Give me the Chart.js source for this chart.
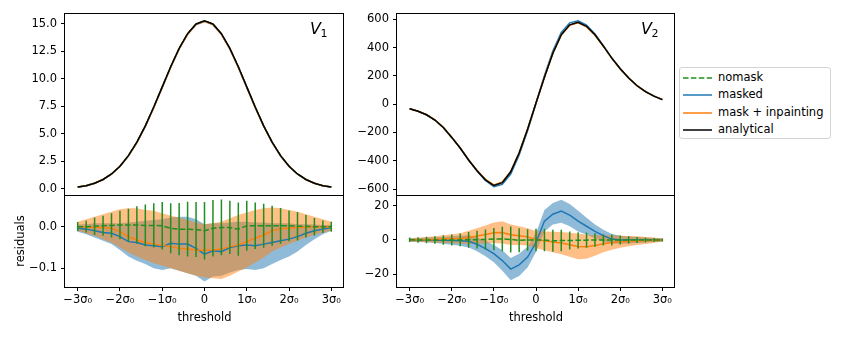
<!DOCTYPE html>
<html><head><meta charset="utf-8">
<script src="https://cdn.jsdelivr.net/npm/chart.js@4/dist/chart.umd.min.js"></script>
<style>
html,body{margin:0;padding:0;background:#fff;}
#wrap{position:relative;width:843px;height:337px;overflow:hidden;background:#fff;}
#wrap canvas{position:absolute;left:0;top:0;}
#legend{position:absolute;left:679px;top:67px;width:152px;height:72px;border:1px solid #d4d4d4;border-radius:3px;box-sizing:border-box;background:#fff;font-family:'DejaVu Sans';font-size:11.5px;color:#000;}
#legend .row{position:absolute;left:0;height:16px;width:150px;}
#legend svg{position:absolute;left:2px;top:0;}
#legend span{position:absolute;left:38px;top:0px;line-height:15px;white-space:nowrap;}
</style>
</head><body>
<div id="wrap">
<canvas id="c1" width="843" height="337"></canvas>
<canvas id="c2" width="843" height="337"></canvas>
<canvas id="c3" width="843" height="337"></canvas>
<canvas id="c4" width="843" height="337"></canvas>
<div id="legend"></div>
</div>
<script>
// ---------------- data ----------------
const thresholds = [-3.0,-2.8,-2.6,-2.4,-2.2,-2.0,-1.8,-1.6,-1.4,-1.2,-1.0,-0.8,-0.6,-0.4,-0.2,0.0,0.2,0.4,0.6,0.8,1.0,1.2,1.4,1.6,1.8,2.0,2.2,2.4,2.6,2.8,3.0];

const v1Analytical = [0.17,0.30,0.52,0.86,1.36,2.07,3.03,4.25,5.74,7.45,9.28,11.11,12.78,14.12,15.00,15.30,15.00,14.12,12.78,11.11,9.28,7.45,5.74,4.25,3.03,2.07,1.36,0.86,0.52,0.30,0.17];
const v2Analytical = [-32,-50,-75,-112,-165,-235,-310,-395,-470,-535,-575,-555,-478,-345,-178,8,190,360,490,560,578,550,490,410,325,250,185,130,88,57,32];

const resV1NoMask = [0,0,0.001,0.002,0.003,0.004,0.004,0.004,0.003,0.003,0.002,-0.004,-0.006,-0.006,-0.007,-0.010,-0.004,-0.002,-0.002,-0.006,0.002,0.002,0.002,0.002,0.002,0.002,0.001,0.001,0,0,0];
const errV1NoMask = [0.011,0.014,0.021,0.024,0.029,0.034,0.039,0.045,0.050,0.053,0.057,0.060,0.063,0.066,0.066,0.069,0.068,0.067,0.064,0.064,0.060,0.056,0.053,0.048,0.043,0.037,0.034,0.027,0.021,0.015,0.012];
const resV1Masked = [-0.004,-0.006,-0.010,-0.014,-0.016,-0.024,-0.036,-0.038,-0.044,-0.046,-0.048,-0.040,-0.042,-0.042,-0.052,-0.066,-0.058,-0.060,-0.050,-0.046,-0.044,-0.046,-0.042,-0.038,-0.034,-0.030,-0.024,-0.016,-0.010,-0.006,-0.002];
const bandV1MaskedLo = [-0.012,-0.018,-0.026,-0.034,-0.042,-0.056,-0.072,-0.082,-0.090,-0.100,-0.104,-0.100,-0.106,-0.112,-0.118,-0.132,-0.120,-0.118,-0.110,-0.104,-0.102,-0.104,-0.100,-0.090,-0.080,-0.072,-0.060,-0.044,-0.030,-0.018,-0.010];
const bandV1MaskedHi = [0.005,0.006,0.008,0.008,0.008,0.008,0.010,0.012,0.014,0.016,0.018,0.022,0.024,0.024,0.018,0.006,0.008,0.008,0.010,0.012,0.012,0.010,0.010,0.008,0.008,0.008,0.006,0.006,0.005,0.004,0.004];
const resV1Inpaint = [0,-0.001,-0.002,-0.002,-0.004,-0.012,-0.024,-0.032,-0.038,-0.042,-0.045,-0.048,-0.052,-0.054,-0.056,-0.057,-0.056,-0.054,-0.048,-0.044,-0.036,-0.028,-0.020,-0.010,-0.005,-0.003,-0.002,-0.001,0,0,0];
const bandV1InpaintLo = [-0.010,-0.016,-0.022,-0.030,-0.038,-0.050,-0.062,-0.072,-0.080,-0.088,-0.094,-0.100,-0.106,-0.112,-0.118,-0.122,-0.124,-0.126,-0.118,-0.108,-0.098,-0.086,-0.074,-0.060,-0.050,-0.042,-0.034,-0.026,-0.020,-0.014,-0.010];
const bandV1InpaintHi = [0.012,0.018,0.024,0.030,0.036,0.042,0.044,0.044,0.040,0.038,0.032,0.026,0.022,0.016,0.010,0.006,0.008,0.012,0.020,0.028,0.034,0.040,0.044,0.046,0.044,0.040,0.036,0.030,0.024,0.018,0.012];

const resV2NoMask = [0.1,0,0,0,0,0,0,0.1,0.2,0.3,0.5,0.6,0.3,-0.2,0,0,0,-0.5,-0.3,-0.3,-0.2,-0.1,0,0,0,0,0,0,0,0,0];
const errV2NoMask = [1.3,1.6,1.9,2.2,2.8,3.2,3.7,4.6,5.1,5.8,6.5,7.1,7.6,7.0,6.3,6.5,6.5,6.4,6.3,5.3,4.7,4.4,3.9,3.2,3.2,2.6,2.1,1.7,1.3,1.1,0.9];
const resV2Masked = [0,0,0,-0.1,-0.2,-0.3,-0.5,-0.8,-2.5,-5.0,-8.0,-12.0,-17.0,-14.5,-10.0,-1.5,11.0,15.0,16.8,14.5,11.0,8.0,5.0,2.5,0.5,0,0,0,0,0,0];
const bandV2MaskedLo = [-1.0,-1.2,-1.4,-1.8,-2.2,-2.8,-3.4,-4.4,-6.5,-9.5,-13.0,-18.0,-23.5,-21.0,-16.0,-7.0,5.0,9.0,10.0,8.0,5.0,3.0,1.0,-1.0,-2.0,-2.2,-2.0,-1.8,-1.5,-1.2,-1.0];
const bandV2MaskedHi = [1.0,1.2,1.4,1.6,1.8,2.2,2.4,2.8,1.5,-0.5,-3.0,-6.0,-10.5,-8.0,-4.0,4.0,17.5,21.5,23.5,21.0,17.0,13.0,9.0,6.0,3.5,2.4,2.0,1.8,1.5,1.2,1.0];
const resV2Inpaint = [0,0.1,0.2,0.3,0.5,0.7,0.9,1.5,2.3,3.2,4.2,4.4,3.0,2.5,1.8,0.2,-0.5,-1.2,-1.8,-2.8,-3.8,-3.9,-3.2,-2.2,-1.5,-1.0,-0.7,-0.4,-0.3,-0.1,0];
const bandV2InpaintLo = [-1.0,-1.1,-1.3,-1.5,-1.7,-1.9,-2.1,-2.3,-2.2,-2.0,-1.8,-2.1,-3.0,-3.0,-3.2,-4.8,-6.0,-7.2,-8.3,-9.8,-11.3,-10.9,-9.2,-7.2,-5.7,-4.5,-3.7,-2.9,-2.3,-1.6,-1.0];
const bandV2InpaintHi = [1.0,1.3,1.7,2.1,2.7,3.3,3.9,5.3,6.8,8.4,10.2,10.9,9.0,8.0,6.8,5.2,5.0,4.8,4.7,4.2,3.7,3.1,2.8,2.8,2.7,2.5,2.3,2.1,1.7,1.4,1.0];

const xTickValues = [-3,-2,-1,0,1,2,3];
const xTickLabels = ['\u22123\u03c3\u2080','\u22122\u03c3\u2080','\u22121\u03c3\u2080','0','1\u03c3\u2080','2\u03c3\u2080','3\u03c3\u2080'];
const v1TickValues = [0,2.5,5,7.5,10,12.5,15];
const v1TickLabels = ['0.0','2.5','5.0','7.5','10.0','12.5','15.0'];
const v2TickValues = [-600,-400,-200,0,200,400,600];
const v2TickLabels = ['\u2212600','\u2212400','\u2212200','0','200','400','600'];
const r1TickValues = [-0.1,0.0];
const r1TickLabels = ['\u22120.1','0.0'];
const r2TickValues = [-20,0,20];
const r2TickLabels = ['\u221220','0','20'];

const seriesNames = ['nomask','masked','mask + inpainting','analytical'];

// ---------------- style ----------------
const C_GREEN = '#1f8f1f', C_BLUE = '#1f77b4', C_ORANGE = '#ff7f0e', C_BLACK = '#000000';
const FILL_BLUE = 'rgba(31,119,180,0.5)', FILL_ORANGE = 'rgba(255,127,14,0.5)';
const FONT = {family: "'DejaVu Sans'", size: 11.5};

const pts = (vals) => thresholds.map((t, i) => ({x: t, y: vals[i]}));
const addPts = (base, res) => thresholds.map((t, i) => ({x: t, y: base[i] + res[i]}));
const errPts = (mean, err) => {
  const out = [];
  thresholds.forEach((t, i) => {
    out.push({x: t, y: mean[i] - err[i]});
    out.push({x: t, y: mean[i] + err[i]});
    out.push({x: t, y: null});
  });
  return out;
};
const line = (data, color, width, order, dash) => ({
  type: 'line', data, borderColor: color, borderWidth: width, pointRadius: 0,
  tension: 0, fill: false, order, borderDash: dash || [], spanGaps: false
});
const bandLo = (vals, order) => ({type:'line', data: pts(vals), borderWidth:0, borderColor:'rgba(0,0,0,0)', pointRadius:0, fill:false, order});
const bandHi = (vals, color, order) => ({type:'line', data: pts(vals), borderWidth:0, borderColor:'rgba(0,0,0,0)', pointRadius:0, fill:'-1', backgroundColor: color, order});

const framePlugin = {
  id: 'frame',
  afterDraw(chart) {
    const a = chart.chartArea, c = chart.ctx;
    c.save();
    c.strokeStyle = '#000'; c.lineWidth = 1;
    const l = Math.round(a.left) - 0.5, t = Math.round(a.top) + 0.5;
    const r = Math.round(a.right) - 0.5, b = Math.round(a.bottom) + 0.5;
    c.strokeRect(l, t, r - l, b - t);
    c.restore();
  }
};
const panelLabelPlugin = {
  id: 'panelLabel',
  afterDraw(chart, args, opts) {
    if (!opts || !opts.sub) return;
    const a = chart.chartArea, c = chart.ctx;
    c.save();
    c.fillStyle = '#000';
    c.textBaseline = 'alphabetic';
    c.font = "italic 16px 'DejaVu Sans'";
    const x = a.right - 34, y = a.top + 21;
    c.fillText('V', x, y);
    const w = c.measureText('V').width;
    c.font = "11px 'DejaVu Sans'";
    c.fillText(opts.sub, x + w - 0.5, y + 3);
    c.restore();
  }
};

function makeOptions(o) {
  return {
    responsive: false, animation: false, events: [], devicePixelRatio: 1,
    layout: {padding: {left: o.padLeft, right: o.padRight, top: o.padTop, bottom: o.padBottom}},
    plugins: {legend: {display: false}, tooltip: {enabled: false}, panelLabel: {sub: o.sub || null}},
    scales: {
      x: {
        type: 'linear', min: -3.3, max: 3.3, offset: false, display: o.showX,
        afterBuildTicks: s => { s.ticks = xTickValues.map(v => ({value: v})); },
        afterFit: s => { if (o.showX) s.height = 50; s.paddingLeft = 0; s.paddingRight = 0; },
        ticks: {autoSkip: false, maxRotation: 0, minRotation: 0, color: '#000', font: FONT, padding: 2,
                callback: (v, i) => xTickLabels[i]},
        grid: {drawOnChartArea: false, drawTicks: true, tickLength: 4, color: '#000', lineWidth: 1},
        border: {display: false},
        title: {display: !!o.xTitle, text: o.xTitle || '', color: '#000', font: FONT, padding: {top: 0, bottom: 12}}
      },
      y: {
        type: 'linear', min: o.yMin, max: o.yMax,
        afterBuildTicks: s => { s.ticks = o.yTicks.map(v => ({value: v})); },
        afterFit: s => { s.width = 65; s.paddingTop = 0; s.paddingBottom = 0; },
        ticks: {color: '#000', font: FONT, padding: 4, callback: (v, i) => o.yLabels[i]},
        grid: {drawOnChartArea: false, drawTicks: true, tickLength: 4, color: '#000', lineWidth: 1},
        border: {display: false},
        title: {display: !!o.yTitle, text: o.yTitle || '', color: '#000', font: FONT, padding: {top: 14, bottom: 0}}
      }
    }
  };
}

Chart.register(framePlugin, panelLabelPlugin);

// Left top: V1
new Chart(document.getElementById('c1'), {
  type: 'line',
  data: {datasets: [
    line(addPts(v1Analytical, resV1NoMask), C_GREEN, 1.5, 4, [5.5, 2.4]),
    line(addPts(v1Analytical, resV1Masked), C_BLUE, 1.5, 3),
    line(addPts(v1Analytical, resV1Inpaint), C_ORANGE, 1.5, 2),
    line(pts(v1Analytical), C_BLACK, 1.5, 1)
  ]},
  options: makeOptions({padLeft: 0, padRight: 843 - 344, padTop: 13, padBottom: 337 - 195, showX: false,
    yMin: -0.55, yMax: 16.0, yTicks: v1TickValues, yLabels: v1TickLabels, sub: '1'})
});

// Left bottom: V1 residuals
new Chart(document.getElementById('c2'), {
  type: 'line',
  data: {datasets: [
    bandLo(bandV1MaskedLo, 10), bandHi(bandV1MaskedHi, FILL_BLUE, 10),
    bandLo(bandV1InpaintLo, 9), bandHi(bandV1InpaintHi, FILL_ORANGE, 9),
    line(pts(resV1Masked), C_BLUE, 1.5, 5),
    line(pts(resV1Inpaint), C_ORANGE, 1.5, 4),
    line(errPts(resV1NoMask, errV1NoMask), C_GREEN, 1.5, 2),
    line(pts(resV1NoMask), C_GREEN, 1.5, 1, [5.5, 2.4])
  ]},
  options: makeOptions({padLeft: 0, padRight: 843 - 344, padTop: 195, padBottom: 0, showX: true, xTitle: 'threshold',
    yMin: -0.145, yMax: 0.076, yTicks: r1TickValues, yLabels: r1TickLabels, yTitle: 'residuals'})
});

// Right top: V2
new Chart(document.getElementById('c3'), {
  type: 'line',
  data: {datasets: [
    line(addPts(v2Analytical, resV2NoMask), C_GREEN, 1.5, 4, [5.5, 2.4]),
    line(addPts(v2Analytical, resV2Masked), C_BLUE, 1.5, 3),
    line(addPts(v2Analytical, resV2Inpaint), C_ORANGE, 1.5, 2),
    line(pts(v2Analytical), C_BLACK, 1.5, 1)
  ]},
  options: makeOptions({padLeft: 397 - 65, padRight: 843 - 675, padTop: 13, padBottom: 337 - 195, showX: false,
    yMin: -642, yMax: 644, yTicks: v2TickValues, yLabels: v2TickLabels, sub: '2'})
});

// Right bottom: V2 residuals
new Chart(document.getElementById('c4'), {
  type: 'line',
  data: {datasets: [
    bandLo(bandV2MaskedLo, 10), bandHi(bandV2MaskedHi, FILL_BLUE, 10),
    bandLo(bandV2InpaintLo, 9), bandHi(bandV2InpaintHi, FILL_ORANGE, 9),
    line(pts(resV2Masked), C_BLUE, 1.5, 5),
    line(pts(resV2Inpaint), C_ORANGE, 1.5, 4),
    line(errPts(resV2NoMask, errV2NoMask), C_GREEN, 1.5, 2),
    line(pts(resV2NoMask), C_GREEN, 1.5, 1, [5.5, 2.4])
  ]},
  options: makeOptions({padLeft: 397 - 65, padRight: 843 - 675, padTop: 195, padBottom: 0, showX: true, xTitle: 'threshold',
    yMin: -27.4, yMax: 26.2, yTicks: r2TickValues, yLabels: r2TickLabels})
});

// Legend (HTML)
const legendStyles = [
  {color: C_GREEN, dash: '5.5,2.4'},
  {color: C_BLUE, dash: ''},
  {color: C_ORANGE, dash: ''},
  {color: C_BLACK, dash: ''}
];
const legendEl = document.getElementById('legend');
seriesNames.forEach((name, i) => {
  const row = document.createElement('div');
  row.className = 'row';
  row.style.top = (2 + i * 17.4) + 'px';
  const st = legendStyles[i];
  row.innerHTML = '<svg width="32" height="16"><line x1="1" y1="8" x2="30" y2="8" stroke="' + st.color +
    '" stroke-width="1.5"' + (st.dash ? ' stroke-dasharray="' + st.dash + '"' : '') + '/></svg><span></span>';
  row.querySelector('span').textContent = name;
  legendEl.appendChild(row);
});
</script>
</body></html>
